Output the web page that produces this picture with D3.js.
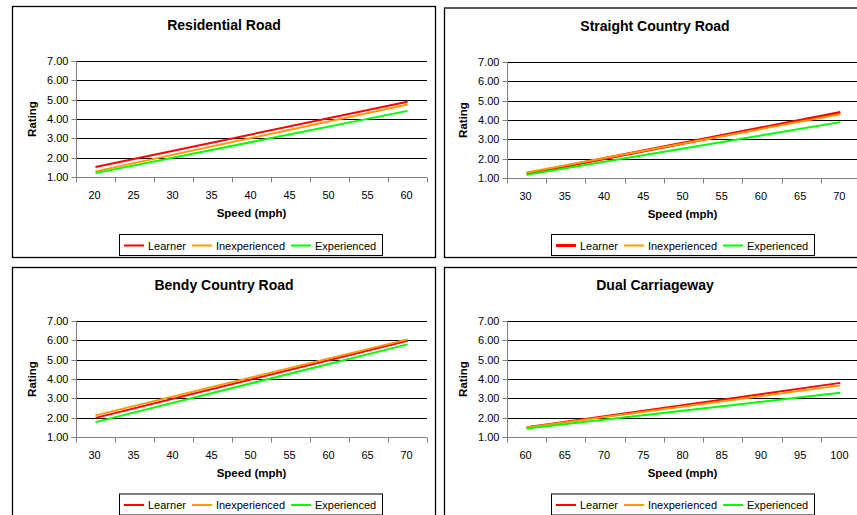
<!DOCTYPE html>
<html>
<head>
<meta charset="utf-8">
<script src="https://cdn.jsdelivr.net/npm/d3@7"></script>
<style>
  html, body { margin: 0; padding: 0; background: #fff; }
  svg { display: block; font-family: "Liberation Sans", Arial, sans-serif; }
</style>
</head>
<body>
<svg id="chart" width="857" height="515"></svg>
<script>
// ---- Data ----
const seriesNames = ["Learner", "Inexperienced", "Experienced"];
const seriesColors = ["#FF0000", "#FF9900", "#00FF00"];
const yTicks = [1, 2, 3, 4, 5, 6, 7];
const yTickLabels = ["1.00", "2.00", "3.00", "4.00", "5.00", "6.00", "7.00"];
const xTitle = "Speed (mph)";
const yTitle = "Rating";

const titles = ["Residential Road", "Straight Country Road", "Bendy Country Road", "Dual Carriageway"];

const residentialSpeeds = ["20", "25", "30", "35", "40", "45", "50", "55", "60"];
const straightSpeeds = ["30", "35", "40", "45", "50", "55", "60", "65", "70"];
const bendySpeeds = ["30", "35", "40", "45", "50", "55", "60", "65", "70"];
const dualSpeeds = ["60", "65", "70", "75", "80", "85", "90", "95", "100"];

// trend lines: values at the lowest and highest speed
const residentialEnds = ["20", "60"];
const residentialLearner = [1.52, 4.89];
const residentialInexperienced = [1.29, 4.75];
const residentialExperienced = [1.20, 4.42];

const straightEnds = ["30", "70"];
const straightLearner = [1.22, 4.39];
const straightInexperienced = [1.28, 4.30];
const straightExperienced = [1.17, 3.89];

const bendyEnds = ["30", "70"];
const bendyLearner = [1.99, 5.98];
const bendyInexperienced = [2.12, 6.05];
const bendyExperienced = [1.77, 5.79];

const dualEnds = ["60", "100"];
const dualLearner = [1.50, 3.80];
const dualInexperienced = [1.49, 3.67];
const dualExperienced = [1.44, 3.29];

// ---- Layout (positions only) ----
const panels = [
  { title: titles[0], cats: residentialSpeeds, ends: residentialEnds,
    vals: [residentialLearner, residentialInexperienced, residentialExperienced],
    box: [12.5, 6.5, 435.5, 257.5], plot: [76, 61, 427, 177], learnerW: 2,
    legend: [119, 234, 263, 21] },
  { title: titles[1], cats: straightSpeeds, ends: straightEnds,
    vals: [straightLearner, straightInexperienced, straightExperienced],
    box: [444.5, 8, 870, 257.5], plot: [507, 62, 860, 178], learnerW: 3,
    legend: [551, 234, 263, 21] },
  { title: titles[2], cats: bendySpeeds, ends: bendyEnds,
    vals: [bendyLearner, bendyInexperienced, bendyExperienced],
    box: [12.5, 267.5, 435.5, 530], plot: [76, 321, 427, 437], learnerW: 2,
    legend: [119, 493.5, 263, 21] },
  { title: titles[3], cats: dualSpeeds, ends: dualEnds,
    vals: [dualLearner, dualInexperienced, dualExperienced],
    box: [444.5, 267.5, 870, 530], plot: [507, 321, 860, 437], learnerW: 2,
    legend: [551, 493.5, 263, 21] }
];

const svg = d3.select("#chart");
svg.append("rect").attr("width", 857).attr("height", 515).attr("fill", "#fff");

panels.forEach(p => {
  const g = svg.append("g");
  const [bx0, by0, bx1, by1] = p.box;
  g.append("rect")
    .attr("x", bx0).attr("y", by0)
    .attr("width", bx1 - bx0).attr("height", by1 - by0)
    .attr("fill", "#fff").attr("stroke", "#000").attr("stroke-width", 1.3);

  const [L, T, R, B] = p.plot;
  const x = d3.scaleBand().domain(p.cats).range([L, R]);
  const y = d3.scaleLinear().domain([1, 7]).range([B, T]);

  // title
  g.append("text")
    .attr("x", L + 148)
    .attr("y", T - 31)
    .attr("text-anchor", "middle")
    .attr("font-weight", "bold").attr("font-size", "14px")
    .attr("fill", "#000")
    .text(p.title);

  // gridlines
  g.append("g").selectAll("line").data(yTicks.slice(1)).join("line")
    .attr("x1", L).attr("x2", R)
    .attr("y1", d => Math.round(y(d)) + 0.5).attr("y2", d => Math.round(y(d)) + 0.5)
    .attr("stroke", "#000").attr("stroke-width", 1);

  // y axis
  const yAxis = d3.axisLeft(y).tickValues(yTicks)
    .tickFormat((d, i) => yTickLabels[i]).tickSize(5).tickPadding(3);
  const ya = g.append("g").attr("transform", `translate(${Math.round(L) + 0.5},0)`).call(yAxis);
  ya.select(".domain").attr("stroke", "#808080").attr("d", `M0,${T}V${B + 0.5}`);
  ya.selectAll(".tick line").attr("stroke", "#808080");
  ya.selectAll(".tick").attr("transform", d => `translate(0,${Math.round(y(d)) + 0.5})`);
  ya.selectAll("text").attr("font-size", "11px").attr("font-family", "Liberation Sans, Arial, sans-serif").attr("fill", "#000");

  // x axis: category axis with ticks between categories
  const xa = g.append("g").attr("transform", `translate(0,${Math.round(B) + 0.5})`);
  xa.append("line").attr("x1", L).attr("x2", R).attr("stroke", "#808080");
  const bounds = p.cats.map(c => x(c)).concat([x(p.cats[p.cats.length - 1]) + x.bandwidth()]);
  xa.selectAll("line.tk").data(bounds).join("line").attr("class", "tk")
    .attr("x1", d => Math.round(d) + 0.5).attr("x2", d => Math.round(d) + 0.5)
    .attr("y1", 0).attr("y2", 5).attr("stroke", "#808080");
  xa.selectAll("text").data(p.cats).join("text")
    .attr("x", d => x(d) + x.bandwidth() / 2 - 1)
    .attr("y", 21)
    .attr("text-anchor", "middle").attr("font-size", "11px").attr("fill", "#000")
    .text(d => d);

  // axis titles
  g.append("text")
    .attr("x", L + 175.5).attr("y", B + 40)
    .attr("text-anchor", "middle").attr("font-weight", "bold").attr("font-size", "11.5px")
    .text(xTitle);
  g.append("text")
    .attr("transform", `translate(${L - 40},${(T + B) / 2}) rotate(-90)`)
    .attr("text-anchor", "middle").attr("font-weight", "bold").attr("font-size", "11.5px")
    .text(yTitle);

  // series lines
  const line = d3.line().x(d => x(d[0]) + x.bandwidth() / 2).y(d => y(d[1]));
  p.vals.forEach((vals, i) => {
    const pts = p.ends.map((c, j) => [c, vals[j]]);
    g.append("path").datum(pts)
      .attr("d", line)
      .attr("fill", "none")
      .attr("stroke", seriesColors[i])
      .attr("stroke-width", i === 0 ? p.learnerW : 2);
  });

  // legend
  const [lx, ly, lw, lh] = p.legend;
  g.append("rect").attr("x", lx + 0.5).attr("y", ly + 0.5).attr("width", lw).attr("height", lh)
    .attr("fill", "#fff").attr("stroke", "#000").attr("stroke-width", 1);
  let cx = lx + 5;
  const cy = ly + 11.5;
  seriesNames.forEach((name, i) => {
    g.append("line").attr("x1", cx).attr("x2", cx + 20).attr("y1", cy).attr("y2", cy)
      .attr("stroke", seriesColors[i]).attr("stroke-width", i === 0 ? p.learnerW : 2);
    const t = g.append("text").attr("x", cx + 24).attr("y", cy + 4)
      .attr("font-size", "11px").attr("fill", "#000").text(name);
    cx = cx + 24 + t.node().getComputedTextLength() + 6;
  });
});
</script>
</body>
</html>
